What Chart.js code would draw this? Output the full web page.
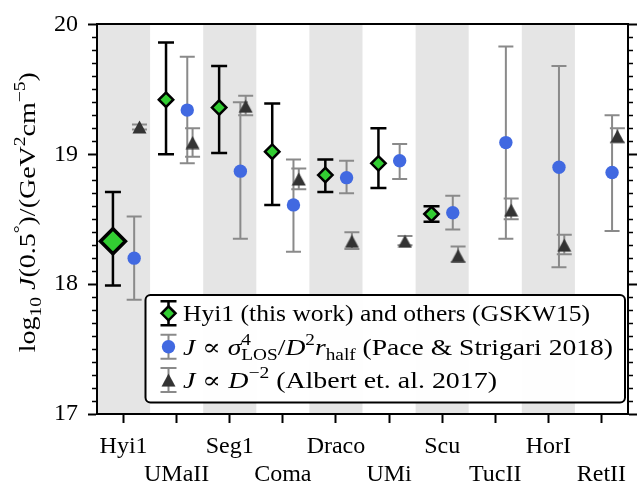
<!DOCTYPE html>
<html><head><meta charset="utf-8">
<script src="https://cdn.jsdelivr.net/npm/chart.js@4.4.1/dist/chart.umd.min.js"></script>
<style>html,body{margin:0;padding:0;background:#fff;overflow:hidden}</style>
</head><body>
<canvas id="c" width="644" height="483" style="display:block;width:644px;height:483px"></canvas>
<script>
// ---------- data ----------
const categories = ['Hyi1','UMaII','Seg1','Coma','Draco','UMi','Scu','TucII','HorI','RetII'];
// Hyi1 (this work) and others (GSKW15)
const gskwVal = [18.33, 19.42, 19.36, 19.02, 18.84, 18.93, 18.54, null, null, null];
const gskwHi  = [18.71, 19.86, 19.68, 19.39, 18.96, 19.20, 18.60, null, null, null];
const gskwLo  = [17.99, 19.00, 19.01, 18.61, 18.71, 18.74, 18.48, null, null, null];
// Pace & Strigari 2018
const paceVal = [18.20, 19.34, 18.87, 18.61, 18.82, 18.95, 18.55, 19.09, 18.90, 18.86];
const paceHi  = [18.52, 19.75, 19.40, 18.96, 18.95, 19.08, 18.68, 19.83, 19.68, 19.30];
const paceLo  = [17.88, 18.93, 18.35, 18.25, 18.70, 18.81, 18.42, 18.35, 18.13, 18.41];
// Albert et al. 2017
const albVal  = [19.21, 19.09, 19.37, 18.81, 18.33, 18.33, 18.22, 18.57, 18.30, 19.14];
const albHi   = [19.23, 19.20, 19.45, 18.89, 18.40, 18.37, 18.29, 18.66, 18.38, 19.20];
const albLo   = [19.19, 18.98, 19.30, 18.73, 18.27, 18.30, 18.17, 18.50, 18.23, 19.09];
const yTicks  = [17, 18, 19, 20];

// ---------- styling ----------
const SERIF = '"Liberation Serif", "DejaVu Serif", serif';
const FS_TICK = 24, FS_TXT = 23;
const GREEN = '#32cd32', BLUE = '#4169e1', TRI = '#333333', GRAY = '#8a8a8a';

function pts(vals, hi, lo, off) {
  return categories.map((c, i) => ({x: i + off, y: vals[i], hi: hi[i], lo: lo[i]}))
                   .filter(p => p.y != null);
}

// triangle marker with bbox centred on point (like matplotlib '^')
const triCanvas = document.createElement('canvas');
triCanvas.width = 15; triCanvas.height = 14;
(function(){ const t = triCanvas.getContext('2d'); t.fillStyle = TRI; t.beginPath();
  t.moveTo(7.5, 0.5); t.lineTo(14.5, 13.5); t.lineTo(0.5, 13.5); t.closePath(); t.fill(); })();

function font(it, size) { return (it ? 'italic ' : '') + size + 'px ' + SERIF; }
function richMeasure(ctx, segs, size) {
  let w = 0;
  for (const s of segs) {
    if (s.ss) { ctx.font = font(false, size*0.7);
      w += Math.max(ctx.measureText(s.ss[0]).width, ctx.measureText(s.ss[1]).width); }
    else { ctx.font = font(s.it, (s.sup||s.sub) ? size*0.7 : size); w += ctx.measureText(s.t).width; }
  }
  return w;
}
function richDraw(ctx, segs, x, y, size) {
  let cx = x;
  ctx.textAlign = 'left'; ctx.textBaseline = 'alphabetic';
  for (const s of segs) {
    if (s.ss) {
      ctx.font = font(false, size*0.7);
      ctx.fillText(s.ss[0], cx, y - size*0.42);
      ctx.fillText(s.ss[1], cx, y + size*0.24);
      cx += Math.max(ctx.measureText(s.ss[0]).width, ctx.measureText(s.ss[1]).width);
    } else {
      const small = s.sup || s.sub;
      ctx.font = font(s.it, small ? size*0.7 : size);
      const dy = s.sup ? -size*0.42 : (s.sub ? size*0.24 : 0);
      ctx.fillText(s.t, cx, y + dy);
      cx += ctx.measureText(s.t).width;
    }
  }
}
// draw rich text stretched horizontally to a given width (approximates the wider TeX font)
function richDrawFit(ctx, segs, x, y, size, target) {
  const w = richMeasure(ctx, segs, size);
  ctx.save(); ctx.translate(x, y); ctx.scale(target / w, 1);
  richDraw(ctx, segs, 0, 0, size);
  ctx.restore();
}

const yTitle = [{t:'log'},{t:'10',sub:1},{t:' '},{t:'J',it:1},{t:'(0.5'},{t:'°',sup:1},{t:')/(GeV'},
                {t:'2',sup:1},{t:'cm'},{t:'−5',sup:1},{t:')'}];
const legendRows = [
  {segs:[{t:'Hyi1 (this work) and others (GSKW15)'}], bar:'#000', marker:'diamond', w: 407},
  {segs:[{t:'J',it:1},{t:' ∝ '},{t:'σ',it:1},{ss:['4','LOS']},{t:'/'},{t:'D',it:1},{t:'2',sup:1},
         {t:'r',it:1},{t:'half',sub:1},{t:' (Pace & Strigari 2018)'}], bar:GRAY, marker:'circle', w: 430},
  {segs:[{t:'J',it:1},{t:' ∝ '},{t:'D',it:1},{t:'−2',sup:1},{t:' (Albert et. al. 2017)'}], bar:GRAY, marker:'tri', w: 314}
];

const bandsPlugin = {
  id: 'bands',
  beforeDraw(chart) {
    const {ctx, chartArea: a, scales: {x}} = chart;
    ctx.save(); ctx.fillStyle = '#e5e5e5';
    categories.forEach((c, i) => {
      if (i % 2) return;
      const l = Math.max(x.getPixelForValue(i - 0.5), a.left), r = Math.min(x.getPixelForValue(i + 0.5), a.right);
      ctx.fillRect(l, a.top, r - l, a.bottom - a.top);
    });
    ctx.restore();
  }
};

const errPlugin = {
  id: 'errbars',
  beforeDatasetsDraw(chart) {
    const {ctx, scales: {x, y}} = chart;
    chart.data.datasets.forEach(ds => {
      const eb = ds.errStyle;
      ctx.save(); ctx.strokeStyle = eb.color; ctx.lineWidth = eb.width;
      ds.data.forEach(p => {
        const px = x.getPixelForValue(p.x), yh = y.getPixelForValue(p.hi), yl = y.getPixelForValue(p.lo);
        ctx.beginPath();
        ctx.moveTo(px, yh); ctx.lineTo(px, yl);
        ctx.moveTo(px - eb.cap, yh); ctx.lineTo(px + eb.cap, yh);
        ctx.moveTo(px - eb.cap, yl); ctx.lineTo(px + eb.cap, yl);
        ctx.stroke();
      });
      ctx.restore();
    });
  }
};

const decoPlugin = {
  id: 'deco',
  afterDraw(chart) {
    const {ctx, chartArea: a, scales: {y}} = chart;
    ctx.save();
    // minor ticks
    ctx.strokeStyle = '#000'; ctx.lineWidth = 1.3;
    for (let k = 170; k <= 200; k++) {
      if (k % 10 === 0) continue;
      const py = Math.round(y.getPixelForValue(k / 10)) + 0.5;
      ctx.beginPath();
      ctx.moveTo(a.left - 5, py); ctx.lineTo(a.left, py);
      ctx.moveTo(a.right, py); ctx.lineTo(a.right + 5, py);
      ctx.stroke();
    }
    // y title
    ctx.fillStyle = '#000';
    ctx.save();
    ctx.translate(35, (a.top + a.bottom) / 2 - 7);
    ctx.rotate(-Math.PI / 2);
    richDrawFit(ctx, yTitle, -140, 0, FS_TXT, 280);
    ctx.restore();
    // legend
    const L = 145.5, T = 295, R = 625, B = 402.5;
    ctx.beginPath(); ctx.roundRect(L, T, R - L, B - T, 5);
    ctx.fillStyle = 'rgba(255,255,255,0.95)'; ctx.fill();
    ctx.lineWidth = 2; ctx.strokeStyle = '#000'; ctx.stroke();
    legendRows.forEach((row, i) => {
      const cy = 313.3 + i * 33.4, mx = 168.5;
      ctx.strokeStyle = row.bar; ctx.lineWidth = i === 0 ? 2.5 : 2;
      ctx.beginPath();
      ctx.moveTo(mx, cy - 12); ctx.lineTo(mx, cy + 12);
      ctx.moveTo(mx - 8, cy - 12); ctx.lineTo(mx + 8, cy - 12);
      ctx.moveTo(mx - 8, cy + 12); ctx.lineTo(mx + 8, cy + 12);
      ctx.stroke();
      if (row.marker === 'diamond') {
        ctx.beginPath(); ctx.moveTo(mx - 7, cy); ctx.lineTo(mx, cy - 7); ctx.lineTo(mx + 7, cy); ctx.lineTo(mx, cy + 7); ctx.closePath();
        ctx.fillStyle = GREEN; ctx.fill(); ctx.lineWidth = 2.5; ctx.strokeStyle = '#000'; ctx.stroke();
      } else if (row.marker === 'circle') {
        ctx.beginPath(); ctx.arc(mx, cy, 6.7, 0, Math.PI * 2); ctx.fillStyle = BLUE; ctx.fill();
      } else {
        ctx.drawImage(triCanvas, mx - triCanvas.width / 2, cy - triCanvas.height / 2);
      }
      ctx.fillStyle = '#000';
      richDrawFit(ctx, row.segs, 183, cy + 8, FS_TXT, row.w);
    });
    ctx.restore();
  }
};

new Chart(document.getElementById('c'), {
  type: 'scatter',
  data: {
    datasets: [
      { label: 'Hyi1 (this work) and others (GSKW15)', data: pts(gskwVal, gskwHi, gskwLo, -0.2),
        pointStyle: 'rectRot', pointRadius: c => c.dataIndex === 0 ? 12.5 : 7.2,
        pointBorderWidth: c => c.dataIndex === 0 ? 3.5 : 2.5,
        backgroundColor: GREEN, borderColor: '#000', errStyle: {color: '#000', width: 2.5, cap: 8} },
      { label: 'J ∝ σ⁴LOS/D² r_half (Pace & Strigari 2018)', data: pts(paceVal, paceHi, paceLo, 0.2),
        pointStyle: 'circle', pointRadius: 6.7, pointBorderWidth: 0,
        backgroundColor: BLUE, borderColor: BLUE, errStyle: {color: GRAY, width: 2, cap: 7.5} },
      { label: 'J ∝ D⁻² (Albert et. al. 2017)', data: pts(albVal, albHi, albLo, 0.3),
        pointStyle: triCanvas, pointRadius: 7,
        backgroundColor: TRI, borderColor: TRI, errStyle: {color: GRAY, width: 2, cap: 7.5} }
    ]
  },
  options: {
    responsive: false, animation: false, events: [],
    layout: {padding: 0},
    plugins: {legend: {display: false}, tooltip: {enabled: false}, title: {display: false}},
    scales: {
      x: { type: 'linear', position: 'bottom', min: -0.5, max: 9.5,
        afterBuildTicks: s => { s.ticks = categories.map((c, i) => ({value: i})); },
        afterFit: s => { s.height = 69; },
        ticks: { color: '#000', padding: 10, autoSkip: false, maxRotation: 0,
          font: {family: SERIF, size: FS_TICK, lineHeight: 1.15},
          callback: v => (v % 2 === 0) ? categories[v] : ['', categories[v]] },
        grid: { drawOnChartArea: false, drawTicks: true, tickLength: 9, tickWidth: 2, color: '#000' },
        border: { display: true, width: 2, color: '#000' } },
      xTop: { type: 'linear', position: 'top', min: -0.5, max: 9.5,
        afterFit: s => { s.height = 15; },
        ticks: {display: false}, grid: {display: false},
        border: { display: true, width: 2, color: '#000' } },
      y: { type: 'linear', position: 'left', min: 17, max: 20,
        afterBuildTicks: s => { s.ticks = yTicks.map(v => ({value: v})); },
        afterFit: s => { s.width = 97; },
        ticks: { color: '#000', padding: 10, font: {family: SERIF, size: FS_TICK} },
        grid: { drawOnChartArea: false, drawTicks: true, tickLength: 9, tickWidth: 2, color: '#000' },
        border: { display: true, width: 2, color: '#000' } },
      yRight: { type: 'linear', position: 'right', min: 17, max: 20,
        afterBuildTicks: s => { s.ticks = yTicks.map(v => ({value: v})); },
        afterFit: s => { s.width = 12; },
        ticks: { display: false },
        grid: { drawOnChartArea: false, drawTicks: true, tickLength: 9, tickWidth: 2, color: '#000' },
        border: { display: true, width: 2, color: '#000' } }
    }
  },
  plugins: [bandsPlugin, errPlugin, decoPlugin]
});
</script>
</body></html>
